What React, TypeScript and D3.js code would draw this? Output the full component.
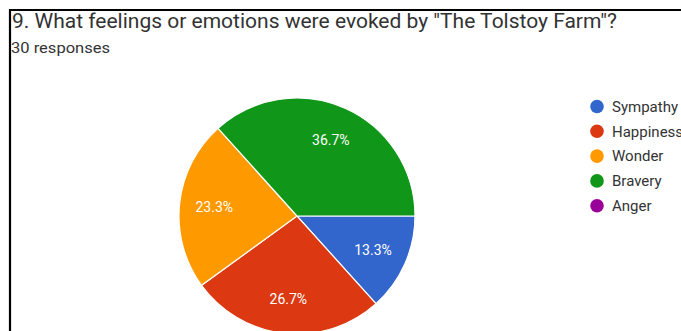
import React from "react";
import * as d3 from "d3";

const categories = ["Sympathy", "Happiness", "Wonder", "Bravery", "Anger"];
const counts = [4, 8, 7, 11, 0];
const colors = ["#3366cc", "#dc3912", "#ff9900", "#109618", "#990099"];

const title = "9. What feelings or emotions were evoked by \"The Tolstoy Farm\"?";
const subtitle = "30 responses";

const W = 681;
const H = 331;

export default function App() {
  const cx = 297;
  const cy = 216;
  const r = 118;
  const total = d3.sum(counts);

  const pie = d3
    .pie<number>()
    .sort(null)
    .value((d) => d)
    .startAngle(Math.PI / 2)
    .endAngle(Math.PI / 2 + 2 * Math.PI);
  const arcs = pie(counts);
  const arc = d3.arc<d3.PieArcDatum<number>>().innerRadius(0).outerRadius(r);
  const labelArc = d3
    .arc<d3.PieArcDatum<number>>()
    .innerRadius(r * 0.705)
    .outerRadius(r * 0.705);

  const font = "Roboto, Arial, sans-serif";

  return (
    <svg
      width={W}
      height={H}
      style={{ position: "absolute", left: 0, top: 0, background: "#fff" }}
    >
      <rect x={0} y={0} width={W} height={H} fill="#fff" />
      {/* frame */}
      <line x1={9} x2={W} y1={10} y2={10} stroke="#000" strokeWidth={2.2} />
      <line x1={10} x2={10} y1={9} y2={H} stroke="#000" strokeWidth={2.2} />

      <text
        x={12}
        y={27.5}
        fontFamily={font}
        fontSize={19.5}
        fill="#333"
        textLength={605}
        lengthAdjust="spacingAndGlyphs"
      >
        {title}
      </text>
      <text
        x={11}
        y={53.3}
        fontFamily={font}
        fontSize={14}
        fill="#333"
        textLength={99}
        lengthAdjust="spacingAndGlyphs"
      >
        {subtitle}
      </text>

      <g transform={`translate(${cx},${cy})`}>
        {arcs.map((a, i) =>
          a.value > 0 ? (
            <path
              key={categories[i]}
              d={arc(a) || ""}
              fill={colors[i]}
              stroke="#fff"
              strokeWidth={1.2}
            />
          ) : null
        )}
        {arcs.map((a, i) => {
          if (a.value === 0) return null;
          const [x, y] = labelArc.centroid(a);
          return (
            <text
              key={"l" + i}
              x={x}
              y={y}
              dy="0.36em"
              textAnchor="middle"
              fontFamily={font}
              fontSize={14}
              fill="#fff"
            >
              {((a.value / total) * 100).toFixed(1) + "%"}
            </text>
          );
        })}
      </g>

      <g>
        {categories.map((c, i) => (
          <g key={c} transform={`translate(597,${106.5 + i * 24.8})`}>
            <circle r={6.8} fill={colors[i]} />
            <text x={15} dy="0.35em" fontFamily={font} fontSize={15} fill="#333">
              {c}
            </text>
          </g>
        ))}
      </g>
    </svg>
  );
}
